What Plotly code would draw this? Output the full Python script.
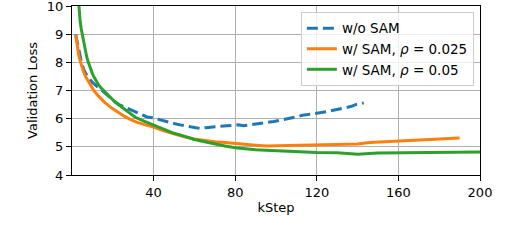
import plotly.graph_objects as go

# ---- data ----
x_nosam = [1.8, 2.2, 2.8, 3.4, 4.0, 4.5, 5.2, 5.9, 7, 8, 9, 10, 11.6, 13, 14.8, 17, 18.9, 21, 23, 25.5,
           27.8, 30, 32, 34.5, 36.8, 39.5, 42.4, 45, 48, 50.5, 53, 55.5, 58, 60.5, 63, 65.5, 68,
           70.5, 73, 76, 79, 81.5, 84, 86.5, 89, 91, 93, 95, 97, 99, 101, 103, 105, 107, 109, 111,
           113, 115, 117, 118.5, 120, 122.5, 125, 127.5, 130, 132.5, 135, 137, 139, 141, 143]
y_nosam = [9.0, 8.85, 8.62, 8.41, 8.2, 8.05, 7.87, 7.72, 7.57, 7.46, 7.37, 7.29, 7.18, 7.1, 7.0, 6.85,
           6.72, 6.6, 6.5, 6.42, 6.35, 6.27, 6.2, 6.12, 6.06, 6.03, 5.97, 5.92, 5.88, 5.82, 5.78,
           5.75, 5.72, 5.7, 5.65, 5.68, 5.7, 5.72, 5.74, 5.75, 5.76, 5.78, 5.75, 5.77, 5.79, 5.81,
           5.83, 5.85, 5.88, 5.9, 5.93, 5.95, 5.97, 6.01, 6.04, 6.08, 6.12, 6.14, 6.15, 6.16, 6.18,
           6.21, 6.25, 6.29, 6.32, 6.35, 6.4, 6.44, 6.5, 6.53, 6.56]

x_sam025 = [1.8, 2.2, 2.7, 3.3, 4.2, 5, 6, 7, 8.5, 10.7, 13, 16, 20, 23, 26, 29, 32, 36, 40, 45, 50,
            55, 60, 65, 70, 75, 79, 85, 90, 95, 100, 105, 112, 120, 128, 135, 140, 146, 152, 160,
            168, 175, 183, 190]
y_sam025 = [8.98, 8.75, 8.5, 8.25, 8.0, 7.8, 7.6, 7.45, 7.25, 7.0, 6.8, 6.58, 6.35, 6.2, 6.07, 5.96,
            5.87, 5.78, 5.7, 5.57, 5.46, 5.36, 5.28, 5.22, 5.18, 5.15, 5.12, 5.08, 5.06, 5.03, 5.04,
            5.05, 5.06, 5.07, 5.08, 5.09, 5.1, 5.15, 5.17, 5.21, 5.22, 5.26, 5.28, 5.31]

x_sam05 = [3.2, 3.6, 4.0, 4.5, 5.1, 5.7, 6.4, 7.2, 8, 9, 10, 11, 12, 13, 14.3, 15.6, 18, 21, 25, 28,
           31, 35, 40, 45, 50, 55, 60, 65, 70, 75, 80, 85, 90, 95, 100, 110, 120, 130, 140, 150,
           160, 170, 180, 190, 200]
y_sam05 = [10.2, 9.75, 9.45, 9.2, 8.95, 8.7, 8.45, 8.2, 8.0, 7.78, 7.6, 7.45, 7.32, 7.2, 7.09, 7.0,
           6.8, 6.6, 6.38, 6.2, 6.05, 5.92, 5.78, 5.62, 5.48, 5.38, 5.26, 5.18, 5.1, 5.03, 4.97,
           4.93, 4.9, 4.88, 4.86, 4.83, 4.8, 4.79, 4.74, 4.78, 4.79, 4.79, 4.79, 4.8, 4.82]

x_ticks = [40, 80, 120, 160, 200]
y_ticks = [4, 5, 6, 7, 8, 9, 10]
names = ["w/o SAM", "w/ SAM, <i>ρ</i> = 0.025", "w/ SAM, <i>ρ</i> = 0.05"]
colors = ["#1f77b4", "#ff7f0e", "#2ca02c"]

fig = go.Figure()
fig.add_trace(go.Scatter(x=x_nosam, y=y_nosam, mode="lines", name=names[0],
                         line=dict(color=colors[0], width=3, dash="11px,5px")))
fig.add_trace(go.Scatter(x=x_sam025, y=y_sam025, mode="lines", name=names[1],
                         line=dict(color=colors[1], width=3)))
fig.add_trace(go.Scatter(x=x_sam05, y=y_sam05, mode="lines", name=names[2],
                         line=dict(color=colors[2], width=3)))

axis_common = dict(showline=True, linecolor="black", linewidth=1, mirror=True,
                   ticks="outside", ticklen=5, tickcolor="black", tickwidth=1,
                   showgrid=True, gridcolor="#b0b0b0", gridwidth=1, zeroline=False,
                   automargin=False, ticklabeloverflow="allow",
                   tickfont=dict(family="DejaVu Sans", size=13, color="black"))

fig.update_layout(
    width=510, height=252,
    margin=dict(l=72, r=30, t=6, b=77),
    paper_bgcolor="white", plot_bgcolor="white",
    font=dict(family="DejaVu Sans", size=13, color="black"),
    xaxis=dict(range=[0, 200], tickvals=x_ticks,
               title=dict(text="kStep", standoff=4, font=dict(family="DejaVu Sans", size=13, color="black")),
               **axis_common),
    yaxis=dict(range=[4, 10.0005], tickvals=y_ticks,
               title=dict(text="Validation Loss", standoff=6, font=dict(family="DejaVu Sans", size=13, color="black")),
               **axis_common),
    legend=dict(x=0.985, y=0.965, xanchor="right", yanchor="top",
                bgcolor="rgba(255,255,255,0.8)", bordercolor="#cccccc", borderwidth=1,
                font=dict(family="DejaVu Sans", size=13.5, color="black"), itemwidth=30, tracegroupgap=0),
    showlegend=True,
)

fig.write_html("out.html", config={"displayModeBar": False},
               post_script="document.body.style.margin='0';")
